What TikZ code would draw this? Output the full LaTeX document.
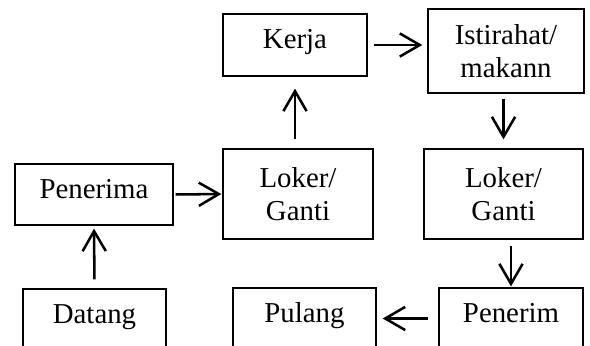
\documentclass[tikz,border=0pt]{standalone}
\usepackage{fontspec}
\setmainfont{Liberation Serif}
\usetikzlibrary{arrows.meta}

\begin{document}
\begin{tikzpicture}[x=0.025cm, y=-0.025cm, font=\fontsize{20.5}{23.5}\selectfont,
	box/.style={draw, line width=0.9pt, inner sep=0pt, align=center},
	oneline/.style={box, text height=0.7em, text depth=0.2em},
	arr/.style={-{Straight Barb[length=5mm, width=5.8mm]}, line width=1.8pt}]
	
	\useasboundingbox (0,0) rectangle (590,345);
	\clip (0,0) rectangle (590,345);
	
	% left column
	\node[oneline, minimum width=3.95cm, minimum height=1.525cm] (penerima) at (94,194.5) {Penerima};
	\node[oneline, minimum width=3.575cm, minimum height=1.525cm] (datang) at (94.5,319.5) {Datang};
	
	% middle column
	\node[oneline, minimum width=3.6cm, minimum height=1.55cm] (kerja) at (295,45) {Kerja};
	\node[box, minimum width=3.75cm, minimum height=2.25cm] (loker1) at (298,194) {Loker/\\Ganti};
	\node[oneline, minimum width=3.575cm, minimum height=1.525cm] (pulang) at (304.5,318.5) {Pulang};
	
	% right column
	\node[box, minimum width=3.9cm, minimum height=2.1cm] (istirahat) at (506,51) {Istirahat/\\makann};
	\node[box, minimum width=3.975cm, minimum height=2.25cm] (loker2) at (503.5,194) {Loker/\\Ganti};
	\node[oneline, minimum width=3.6cm, minimum height=1.525cm] (penerim) at (511,318.5) {Penerim};
	
	% arrows
	\draw[arr, shorten <=6.4pt, shorten >=2.1pt] (datang.north) -- (penerima.south);
	\draw[arr, shorten <=1.4pt, shorten >=0.7pt] (penerima.east) -- (loker1.west);
	\draw[arr, shorten <=6.4pt, shorten >=8.5pt] (loker1.north -| kerja) -- (kerja.south);
	\draw[arr, shorten <=4.3pt, shorten >=3.6pt] (kerja.east) -- (kerja.east -| istirahat.west);
	\draw[arr, shorten <=3.6pt, shorten >=6.4pt] (istirahat.south -| loker2) -- (loker2.north);
	\draw[arr, shorten <=4.3pt, shorten >=0.7pt] (loker2.south -| penerim) -- (penerim.north);
	\draw[arr, shorten <=7.1pt, shorten >=4.3pt] (penerim.west) -- (pulang.east);
	
\end{tikzpicture}
\end{document}
